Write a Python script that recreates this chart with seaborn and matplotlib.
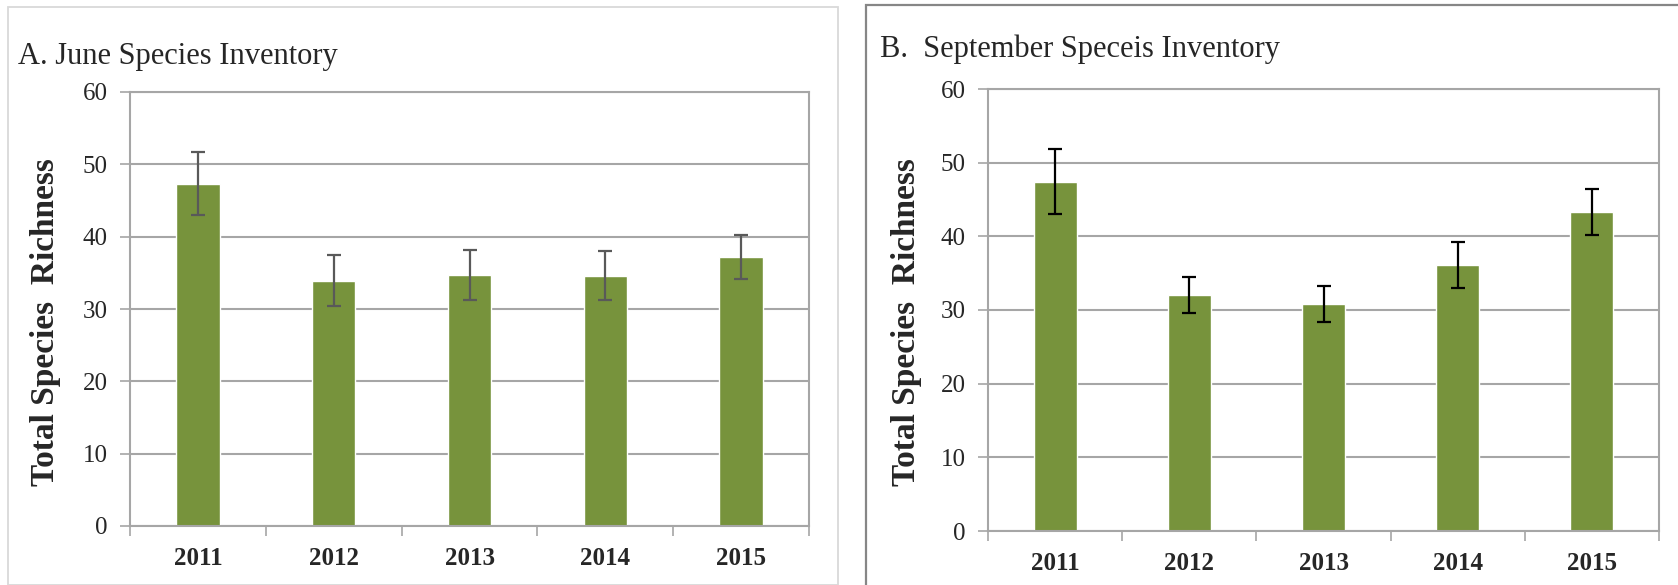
import numpy as np
import pandas as pd
import matplotlib
matplotlib.use("Agg")
import matplotlib.pyplot as plt
import seaborn as sns
from matplotlib.patches import Rectangle

# data
years = ["2011", "2012", "2013", "2014", "2015"]
june_mean = [47.3, 33.9, 34.7, 34.6, 37.2]
june_err = [4.35, 3.5, 3.45, 3.35, 3.05]
sept_mean = [47.4, 32.0, 30.8, 36.1, 43.3]
sept_err = [4.4, 2.45, 2.45, 3.1, 3.1]

sns.set_theme(style="white")
plt.rcParams['font.family'] = ['Liberation Serif', 'DejaVu Serif']

bar_color = "#77933C"
grid_color = "#A6A6A6"

fig = plt.figure(figsize=(16.78, 5.85), dpi=100)
W, H = 1678, 585

# outer chart frames
fig.patches.append(Rectangle((8 / W, 0 / H), (838 - 8) / W, (578) / H,
                             transform=fig.transFigure, fill=False,
                             edgecolor="#D9D9D9", linewidth=1.3))
fig.patches.append(Rectangle((866 / W, -5 / H), (1690 - 866) / W, (585) / H,
                             transform=fig.transFigure, fill=False,
                             edgecolor="#868686", linewidth=1.6))


def panel(rect, means, errs, err_color, title, title_xy, ylabel_x):
    ax = fig.add_axes(rect)
    df = pd.DataFrame({"Year": years, "Richness": means})
    sns.barplot(data=df, x="Year", y="Richness", color=bar_color,
                saturation=1, width=0.32, errorbar=None, ax=ax)
    ax.errorbar(np.arange(len(years)), means, yerr=errs, fmt="none",
                ecolor=err_color, elinewidth=1.6, capsize=5, capthick=1.6,
                zorder=5)
    ax.set_ylim(0, 60)
    ax.set_xlim(-0.5, len(years) - 0.5)
    ax.set_yticks(range(0, 61, 10))
    ax.yaxis.grid(True, color=grid_color, linewidth=1.5)
    ax.set_axisbelow(True)
    for s in ax.spines.values():
        s.set_visible(True)
        s.set_color(grid_color)
        s.set_linewidth(1.5)
    ax.set_xticks(np.arange(-0.5, len(years)), minor=True)
    ax.tick_params(axis="x", which="major", length=0, pad=15)
    ax.tick_params(axis="x", which="minor", length=7, width=1.2,
                   color=grid_color, direction="out", bottom=True)
    ax.tick_params(axis="y", length=7, width=1.2, color=grid_color,
                   direction="out", left=True, pad=9, labelsize=18)
    for lab in ax.get_xticklabels():
        lab.set_fontweight("bold")
        lab.set_fontsize(18)
    ax.set_xlabel("")
    ax.set_ylabel("")
    fig.text(ylabel_x / W, 1 - 322 / H, "Total Species  Richness",
             rotation=90, ha="center", va="center", fontsize=24,
             fontweight="bold")
    fig.text(title_xy[0] / W, 1 - title_xy[1] / H, title, ha="left",
             va="baseline", fontsize=22)
    return ax


panel([130 / W, 1 - 526 / H, (809 - 130) / W, (526 - 92) / H],
      june_mean, june_err, "#595959", "A. June Species Inventory",
      (18, 64), 46)
panel([988 / W, 1 - 531 / H, (1659 - 988) / W, (531 - 89) / H],
      sept_mean, sept_err, "black", "B.  September Speceis Inventory",
      (880, 57), 906)

fig.savefig("out.png", dpi=100)
